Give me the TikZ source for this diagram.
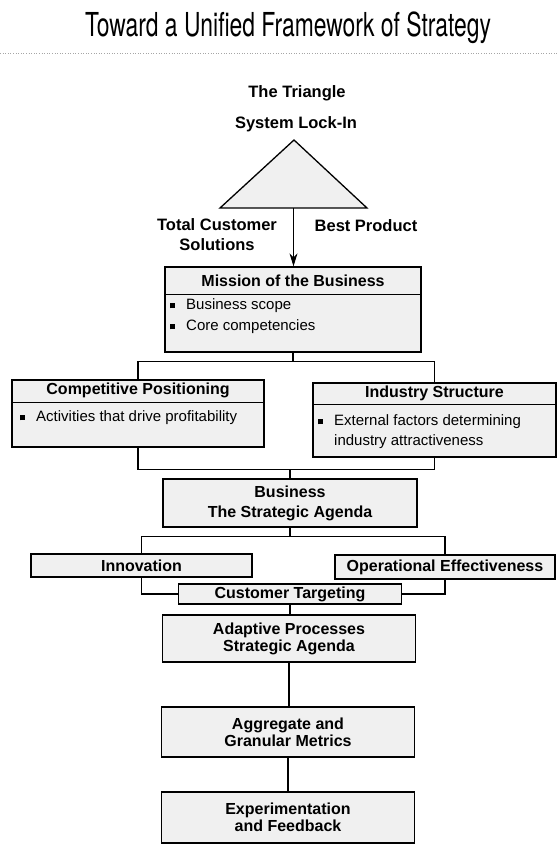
\documentclass[tikz,border=0pt]{standalone}
\usepackage{fontspec}
\setmainfont{Liberation Sans}
\newfontfamily\titlefont{TeX Gyre Heros}
\usetikzlibrary{arrows.meta}

\tikzset{
  box/.style={draw, line width=1.3pt, fill=black!6, inner sep=0pt},
  hdr/.style={font=\bfseries\fontsize{16}{20}\selectfont, align=center, inner sep=0pt},
  txt/.style={font=\fontsize{15}{20}\selectfont, align=left, inner sep=0pt},
  lbl/.style={font=\bfseries\fontsize{16.5}{20}\selectfont, align=center, inner sep=0pt},
  link/.style={line width=1.1pt},
  rule/.style={line width=1.1pt}
}
\newcommand{\sqbul}{\rule[1.5pt]{5pt}{5pt}\hspace{11pt}}

\begin{document}
\begin{tikzpicture}[x=1pt, y=-1pt]
\useasboundingbox (0,0) rectangle (558,845);

% heading and dotted rule
\node[inner sep=0pt, anchor=base] (title) at (288,37)
  {\resizebox{406pt}{\height}{\titlefont\fontsize{33}{36}\selectfont Toward a Unified Framework of Strategy}};
\coordinate (rl) at (0,53);
\coordinate (rr) at (558,53);
\draw[gray!70, line width=0.6pt, dotted] (rl) -- (rr);

% the triangle
\node[lbl] (trihd) at (297,93) {The Triangle};
\node[lbl] (lockin) at (296,124) {System Lock-In};
\coordinate (apex) at (294,140);
\coordinate (tl) at (220,208);
\coordinate (tr) at (367,208);
\coordinate (tribase) at (293.5,208);
\draw[line width=1.3pt, fill=black!6, line join=miter] (tl) -- (apex) -- (tr) -- cycle;
\node[lbl] (tcs) at (217,235) {Total Customer\\Solutions};
\node[lbl] (bp) at (366,226) {Best Product};

% mission
\node[box, minimum width=256pt, minimum height=85pt] (mission) at (293,309.5) {};
\draw[rule] ([yshift=-28pt]mission.north west) -- ([yshift=-28pt]mission.north east);
\node[hdr] (missionhd) at ([yshift=-14pt]mission.north) {Mission of the Business};
\node[txt, anchor=west, font=\fontsize{15}{21}\selectfont] (missionli) at (170,316.5)
  {\sqbul Business scope\\\sqbul Core competencies};
\draw[link, -{Stealth[length=13pt, width=8pt, inset=4pt]}] (tribase) -- (tribase |- mission.north);

% competitive positioning and industry structure
\node[box, minimum width=252pt, minimum height=67pt] (cp) at (138,413.5) {};
\draw[rule] ([yshift=-23pt]cp.north west) -- ([yshift=-23pt]cp.north east);
\node[hdr] (cphd) at ([yshift=-11.5pt]cp.north) {Competitive Positioning};
\node[txt, anchor=west] (cpli) at (20,418) {\sqbul Activities that drive profitability};

\node[box, minimum width=243pt, minimum height=74pt] (is) at (434.5,420) {};
\draw[rule] ([yshift=-22pt]is.north west) -- ([yshift=-22pt]is.north east);
\node[hdr] (ishd) at ([yshift=-11pt]is.north) {Industry Structure};
\node[txt, anchor=west] (isli) at (318,432)
  {\sqbul External factors determining\\\hphantom{\sqbul}industry attractiveness};

\draw[link] (mission.south) -- ++(0,9) coordinate (mj);
\draw[link] (mj) -| (cp.north);
\draw[link] (mj) -| (is.north);

% business agenda
\node[box, hdr, minimum width=254pt, minimum height=48pt] (business) at (290,503)
  {Business\\The Strategic Agenda};
\coordinate (bj) at ([yshift=9pt]business.north);
\draw[link] (cp.south) |- (bj);
\draw[link] (is.south) |- (bj);
\draw[link] (bj) -- (business.north);

% innovation, operational effectiveness, customer targeting
\node[box, hdr, minimum width=221pt, minimum height=23pt] (innov) at (141.5,565.5) {Innovation};
\node[box, hdr, minimum width=220pt, minimum height=24pt] (opeff) at (445,567) {Operational Effectiveness};
\node[box, hdr, minimum width=223pt, minimum height=20pt] (ct) at (290,594) {Customer Targeting};

\draw[link] (business.south) -- ++(0,9) coordinate (sj);
\draw[link] (sj) -| (innov.north);
\draw[link] (sj) -| (opeff.north);
\draw[link] (innov.south) |- (ct.west);
\draw[link] (opeff.south) |- (ct.east);

% processes, metrics, feedback
\node[box, hdr, minimum width=253pt, minimum height=47pt, font=\bfseries\fontsize{16}{17}\selectfont] (ap) at (289,638.5)
  {Adaptive Processes\\Strategic Agenda};
\node[box, hdr, minimum width=253pt, minimum height=50pt, font=\bfseries\fontsize{16}{17}\selectfont] (agg) at (288,732)
  {Aggregate and\\Granular Metrics};
\node[box, hdr, minimum width=253pt, minimum height=51pt, font=\bfseries\fontsize{16}{17}\selectfont] (exp) at (288,817.5)
  {Experimentation\\and Feedback};

\draw[link] (ct.south) -- (ct.south |- ap.north);
\draw[link] (ap.south) -- (ap.south |- agg.north);
\draw[link] (agg.south) -- (agg.south |- exp.north);
\end{tikzpicture}
\end{document}
